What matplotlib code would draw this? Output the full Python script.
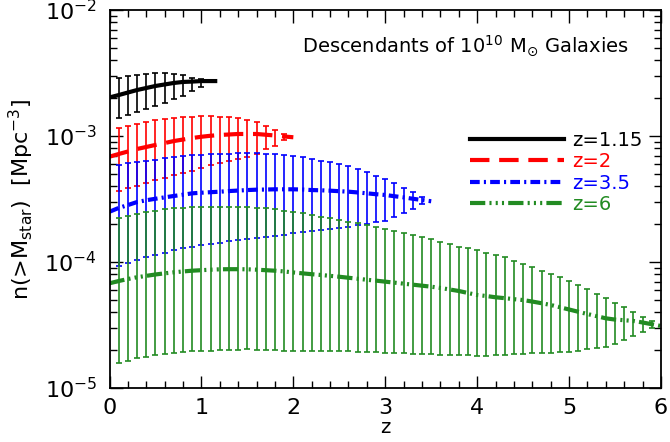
import numpy as np
import matplotlib
matplotlib.use('Agg')
import matplotlib.pyplot as plt
from matplotlib.ticker import MultipleLocator

# log10 n(>M_star) [Mpc^-3]
# center lines start at z=0 and run up to the starting redshift
z_black = [0.0, 0.1, 0.2, 0.3, 0.4, 0.5, 0.6, 0.7, 0.8, 0.9, 1.0, 1.1, 1.15]
logn_black = [-2.694, -2.675, -2.655, -2.635, -2.619, -2.603, -2.591, -2.579,
              -2.571, -2.568, -2.564, -2.564, -2.564]
hi_black = [-2.537, -2.524, -2.516, -2.508, -2.502, -2.502, -2.508, -2.516,
            -2.537, -2.548]
lo_black = [-2.855, -2.833, -2.812, -2.786, -2.762, -2.736, -2.709, -2.682,
            -2.643, -2.609]

logn_red = [-3.164, -3.143, -3.123, -3.103, -3.087, -3.071, -3.056, -3.040,
            -3.028, -3.016, -3.006, -2.998, -2.992, -2.988, -2.984, -2.984,
            -2.984, -2.990, -2.996, -3.004, -3.010]
hi_red = [-2.934, -2.918, -2.902, -2.886, -2.875, -2.865, -2.857, -2.852,
          -2.847, -2.841, -2.841, -2.847, -2.852, -2.859, -2.873, -2.891,
          -2.918, -2.952, -2.987]
lo_red = [-3.433, -3.413, -3.393, -3.373, -3.353, -3.333, -3.313, -3.294,
          -3.274, -3.254, -3.234, -3.214, -3.198, -3.182, -3.163, -3.139,
          -3.103, -3.077, -3.032]

logn_blue = [-3.601, -3.571, -3.548, -3.524, -3.510, -3.498, -3.487, -3.476,
             -3.466, -3.455, -3.450, -3.446, -3.442, -3.437, -3.433, -3.429,
             -3.426, -3.425, -3.423, -3.423, -3.423, -3.425, -3.429, -3.431,
             -3.434, -3.438, -3.442, -3.448, -3.455, -3.462, -3.468, -3.478,
             -3.487, -3.498, -3.508, -3.518]
hi_blue = [-3.230, -3.218, -3.206, -3.196, -3.187, -3.177, -3.168, -3.159,
           -3.152, -3.148, -3.145, -3.143, -3.141, -3.137, -3.137, -3.137,
           -3.139, -3.143, -3.147, -3.155, -3.167, -3.180, -3.195, -3.206,
           -3.222, -3.238, -3.264, -3.288, -3.315, -3.339, -3.371, -3.410,
           -3.447, -3.487]
lo_blue = [-4.032, -4.008, -3.984, -3.964, -3.944, -3.925, -3.905, -3.891,
           -3.879, -3.865, -3.856, -3.847, -3.837, -3.828, -3.819, -3.809,
           -3.800, -3.791, -3.782, -3.772, -3.763, -3.754, -3.746, -3.738,
           -3.730, -3.720, -3.709, -3.698, -3.685, -3.671, -3.643, -3.611,
           -3.579, -3.540]

logn_green = [-4.169, -4.151, -4.135, -4.121, -4.110, -4.099, -4.090, -4.082,
              -4.075, -4.069, -4.065, -4.061, -4.058, -4.057, -4.057, -4.058,
              -4.061, -4.065, -4.069, -4.075, -4.083, -4.090, -4.097, -4.103,
              -4.110, -4.117, -4.125, -4.133, -4.141, -4.148, -4.156, -4.164,
              -4.172, -4.180, -4.188, -4.196, -4.206, -4.218, -4.230, -4.246,
              -4.262, -4.270, -4.280, -4.287, -4.295, -4.302, -4.314, -4.327,
              -4.341, -4.359, -4.377, -4.395, -4.413, -4.430, -4.447, -4.457,
              -4.462, -4.468, -4.480, -4.494, -4.508]
hi_green = [-3.653, -3.635, -3.619, -3.607, -3.595, -3.583, -3.574, -3.570,
            -3.566, -3.564, -3.561, -3.561, -3.561, -3.564, -3.566, -3.570,
            -3.574, -3.583, -3.593, -3.603, -3.615, -3.627, -3.641, -3.653,
            -3.667, -3.680, -3.693, -3.706, -3.719, -3.738, -3.751, -3.772,
            -3.786, -3.804, -3.820, -3.839, -3.857, -3.879, -3.891, -3.905,
            -3.925, -3.944, -3.963, -3.990, -4.016, -4.037, -4.069, -4.095,
            -4.121, -4.148, -4.183, -4.217, -4.254, -4.288, -4.328, -4.360,
            -4.395, -4.434, -4.466]
lo_green = [-4.804, -4.783, -4.764, -4.750, -4.738, -4.729, -4.720, -4.714,
            -4.709, -4.706, -4.704, -4.701, -4.698, -4.695, -4.691, -4.695,
            -4.698, -4.701, -4.704, -4.706, -4.706, -4.706, -4.706, -4.706,
            -4.706, -4.709, -4.712, -4.714, -4.717, -4.720, -4.722, -4.725,
            -4.728, -4.730, -4.733, -4.736, -4.738, -4.741, -4.742, -4.744,
            -4.744, -4.738, -4.736, -4.730, -4.730, -4.725, -4.725, -4.720,
            -4.717, -4.712, -4.704, -4.693, -4.685, -4.672, -4.651, -4.619,
            -4.587, -4.553, -4.526]

labels = ['z=1.15', 'z=2', 'z=3.5', 'z=6']
colors = ['black', 'red', 'blue', '#228b22']

plt.rcParams['lines.scale_dashes'] = False
plt.rcParams['mathtext.default'] = 'regular'

fig = plt.figure(figsize=(6.7, 4.42), dpi=100)
ax = fig.add_axes([109.5 / 670, 54 / 442, 551.5 / 670, 378 / 442])

series = [
    (z_black, logn_black, hi_black, lo_black, '-'),
    (np.round(np.arange(len(logn_red)) * 0.1, 1), logn_red, hi_red, lo_red, (0, (14, 7))),
    (np.round(np.arange(len(logn_blue)) * 0.1, 1), logn_blue, hi_blue, lo_blue,
     (0, (7, 3, 1.5, 3))),
    (np.round(np.arange(len(logn_green)) * 0.1, 1), logn_green, hi_green, lo_green,
     (0, (11, 3, 1.5, 3, 1.5, 3, 1.5, 3))),
]

for (z, logn, hi, lo, ls), col, lab in zip(series, colors, labels):
    z = np.asarray(z, dtype=float)
    n = 10 ** np.asarray(logn)
    nb = len(hi)
    zb = z[1:nb + 1]
    yb = n[1:nb + 1]
    up = np.clip(10 ** np.asarray(hi) - yb, 0, None)
    dn = np.clip(yb - 10 ** np.asarray(lo), 0, None)
    ax.errorbar(zb, yb, yerr=[dn, up], fmt='none', ecolor=col,
                elinewidth=1.2, capsize=2.4, capthick=1.2)
    ax.plot(z, n, color=col, lw=3.0, linestyle=ls, label=lab)

ax.set_yscale('log')
ax.set_xlim(0, 6)
ax.set_ylim(1e-5, 1e-2)
ax.xaxis.set_major_locator(MultipleLocator(1))
ax.xaxis.set_minor_locator(MultipleLocator(0.2))
ax.tick_params(which='both', direction='in', top=True, right=True,
               labelsize=16, width=1.0)
ax.tick_params(which='major', length=9)
ax.tick_params(axis='x', which='major', pad=7)
ax.tick_params(axis='y', which='major', pad=9)
ax.tick_params(which='minor', length=5)
for sp in ax.spines.values():
    sp.set_linewidth(1.3)

ax.set_xlabel('z', fontsize=14, labelpad=0)
ax.set_ylabel(r'n(>M$_{star}$)  [Mpc$^{-3}$]', fontsize=16, labelpad=6)

ax.text(0.942, 0.905, r'Descendants of 10$^{10}$ M$_{\odot}$ Galaxies',
        transform=ax.transAxes, ha='right', va='center', fontsize=14)

ax.legend(loc='upper left', bbox_to_anchor=(0.654, 0.68), frameon=False,
          fontsize=14, handlelength=4.8, handletextpad=0.45, labelspacing=0.12,
          borderpad=0, borderaxespad=0, labelcolor='linecolor')

fig.savefig('out.png', dpi=100)
